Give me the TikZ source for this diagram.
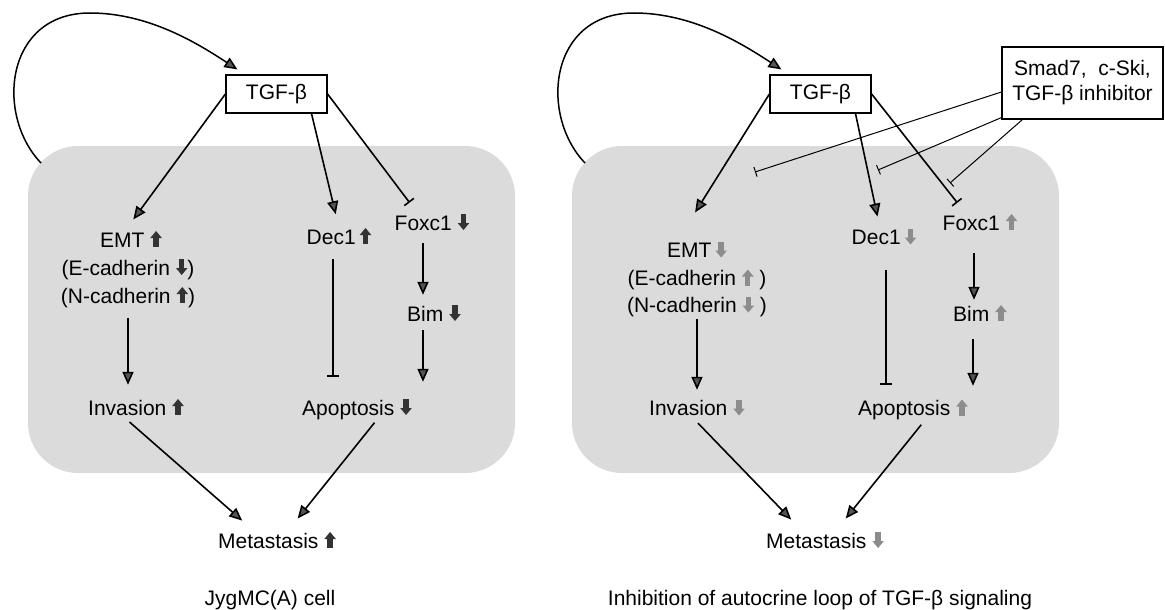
\documentclass[tikz,border=0pt]{standalone}
\usepackage{fontspec}
\setmainfont{Liberation Sans}
\usetikzlibrary{arrows.meta}
\definecolor{cellgray}{HTML}{DBDBDB}
\definecolor{tipfill}{HTML}{555555}
\definecolor{darkA}{HTML}{333333}
\definecolor{lightA}{HTML}{8C8C8C}
\newcommand\upBlk[1]{\tikz[baseline=0pt,x=1pt,y=1pt]{\fill[#1] (-2.7,0) rectangle (2.7,9.5); \fill[#1] (-5.8,9) -- (5.8,9) -- (0,16) -- cycle;}}
\newcommand\dnBlk[1]{\tikz[baseline=0pt,x=1pt,y=1pt]{\fill[#1] (-2.7,6.5) rectangle (2.7,16); \fill[#1] (-5.8,7) -- (5.8,7) -- (0,0) -- cycle;}}
\newcommand\uL{\upBlk{darkA}}
\newcommand\dL{\dnBlk{darkA}}
\newcommand\uR{\upBlk{lightA}}
\newcommand\dR{\dnBlk{lightA}}
\begin{document}
\begin{tikzpicture}[x=1pt,y=-1pt,
  txt/.style={font=\fontsize{21}{25}\selectfont, inner sep=0pt, anchor=base},
  box/.style={draw, line width=1.2pt, font=\fontsize{21}{25}\selectfont, inner sep=0pt},
  cell/.style={fill=cellgray, rounded corners=50pt, minimum width=487pt, minimum height=327pt, inner sep=0pt},
  act/.style={line width=1.6pt, -{Triangle[length=13pt,width=11pt,fill=tipfill]}},
  inh/.style={line width=1.6pt, -{Bar[width=12pt]}},
  inhthin/.style={line width=1pt, -{Bar[width=10pt]}},
  loopline/.style={line width=1.5pt, -{Triangle[length=13pt,width=11pt,fill=tipfill]}}]
\fill[white] (0,0) rectangle (1165,610);
\useasboundingbox (0,0) rectangle (1165,610);

% ---------------- left panel ----------------
\node[cell] (cellL) at (271.5,309.5) {};
\node[box, minimum width=101pt, minimum height=38pt] (tgfL) at (276.5,94) {TGF-β};
\node[txt] (emtL) at (131,247) {EMT \uL};
\node[txt] (ecadL) at (128,275) {(E-cadherin \dL)};
\node[txt] (ncadL) at (128,303) {(N-cadherin \uL)};
\node[txt] (invL) at (136,415) {Invasion \uL};
\node[txt] (decL) at (339,244) {Dec1\hspace{4pt}\uL};
\node[txt] (foxL) at (432,230) {Foxc1 \dL};
\node[txt] (bimL) at (434,321) {Bim \dL};
\node[txt] (apoL) at (357,415) {Apoptosis \dL};
\node[txt] (metL) at (277,548) {Metastasis \uL};
\node[txt] (capL) at (270,605) {JygMC(A) cell};
\coordinate (loopL) at (41,163);

\draw[loopline] (loopL) .. controls (-5,115) and (5,13) .. (90,13) .. controls (150,13) and (200,45) .. ([shift={(12,-5)}]tgfL.north west);
\draw[act, shorten >=14pt] (tgfL.west) -- ([xshift=-6pt]emtL.north);
\draw[act, shorten >=14pt] ([xshift=35pt]tgfL.south) -- (decL.north);
\draw[inh, shorten >=14pt] (tgfL.east) -- ([xshift=-14pt]foxL.north);
\draw[act, shorten <=10pt, shorten >=14pt] (ncadL.south) -- ([xshift=-8pt]invL.north);
\draw[inh, shorten <=15pt, shorten >=22pt] ([xshift=-6pt]decL.south) -- ([xshift=-24pt]apoL.north);
\draw[act, shorten <=13pt, shorten >=10pt] ([xshift=-9pt]foxL.south) -- ([xshift=-11pt]bimL.north);
\draw[act, shorten <=9pt, shorten >=17pt] ([xshift=-11pt]bimL.south) -- ([xshift=66pt]apoL.north);
\draw[act, shorten <=10pt, shorten >=17pt] ([xshift=-14pt]invL.south) -- ([xshift=-22pt]metL.north);
\draw[act, shorten <=4pt, shorten >=17pt] ([xshift=20pt]apoL.south) -- ([xshift=10pt]metL.north);

% ---------------- right panel ----------------
\node[cell] (cellR) at (815.5,309.5) {};
\node[box, minimum width=101pt, minimum height=38pt] (tgfR) at (820.5,94) {TGF-β};
\node[box, minimum width=161pt, minimum height=72pt, align=center] (smad) at (1082.5,83) {Smad7,\ \ c-Ski,\\TGF-β inhibitor};
\node[txt] (emtR) at (697,257.5) {EMT\hspace{4pt}\dR};
\node[txt] (ecadR) at (697,285.5) {(E-cadherin \uR\ )};
\node[txt] (ncadR) at (697,312.5) {(N-cadherin \dR\ )};
\node[txt] (invR) at (697,415.5) {Invasion \dR};
\node[txt] (decR) at (884,244.5) {Dec1\hspace{4pt}\dR};
\node[txt] (foxR) at (980,230) {Foxc1 \uR};
\node[txt] (bimR) at (980,321) {Bim \uR};
\node[txt] (apoR) at (913,415.5) {Apoptosis \uR};
\node[txt] (metR) at (825,548) {Metastasis \dR};
\node[txt] (capR) at (820,605) {Inhibition of autocrine loop of TGF-β signaling};
\coordinate (loopR) at (585,163);
\coordinate (i1) at (755,172);
\coordinate (i2) at (878,170);
\coordinate (i3) at (950,183);

\draw[loopline] (loopR) .. controls (539,115) and (549,13) .. (634,13) .. controls (694,13) and (744,45) .. ([shift={(12,-5)}]tgfR.north west);
\draw[act, shorten >=34pt] (tgfR.west) -- ([xshift=-20pt]emtR.north);
\draw[act, shorten >=12pt] ([xshift=35pt]tgfR.south) -- ([xshift=-4pt]decR.north);
\draw[inh, shorten >=14pt] (tgfR.east) -- ([xshift=-14pt]foxR.north);
\draw[act, shorten <=2pt, shorten >=9.5pt] (ncadR.south) -- (invR.north);
\draw[inh, shorten <=25pt, shorten >=14.5pt] ([xshift=2pt]decR.south) -- ([xshift=-27pt]apoR.north);
\draw[act, shorten <=23pt, shorten >=5pt] ([xshift=-6pt]foxR.south) -- ([xshift=-6pt]bimR.north);
\draw[act, shorten <=18pt, shorten >=13.5pt] ([xshift=-7pt]bimR.south) -- ([xshift=60pt]apoR.north);
\draw[act, shorten <=10pt, shorten >=17pt] ([xshift=-6pt]invR.south) -- ([xshift=-22pt]metR.north);
\draw[act, shorten <=6pt, shorten >=17pt] ([xshift=12pt]apoR.south) -- ([xshift=10pt]metR.north);
\draw[inhthin] ([yshift=-9pt]smad.west) -- (i1);
\draw[inhthin] ([yshift=2pt]smad.south west) -- (i2);
\draw[inhthin] ([xshift=21pt]smad.south west) -- (i3);
\end{tikzpicture}
\end{document}
